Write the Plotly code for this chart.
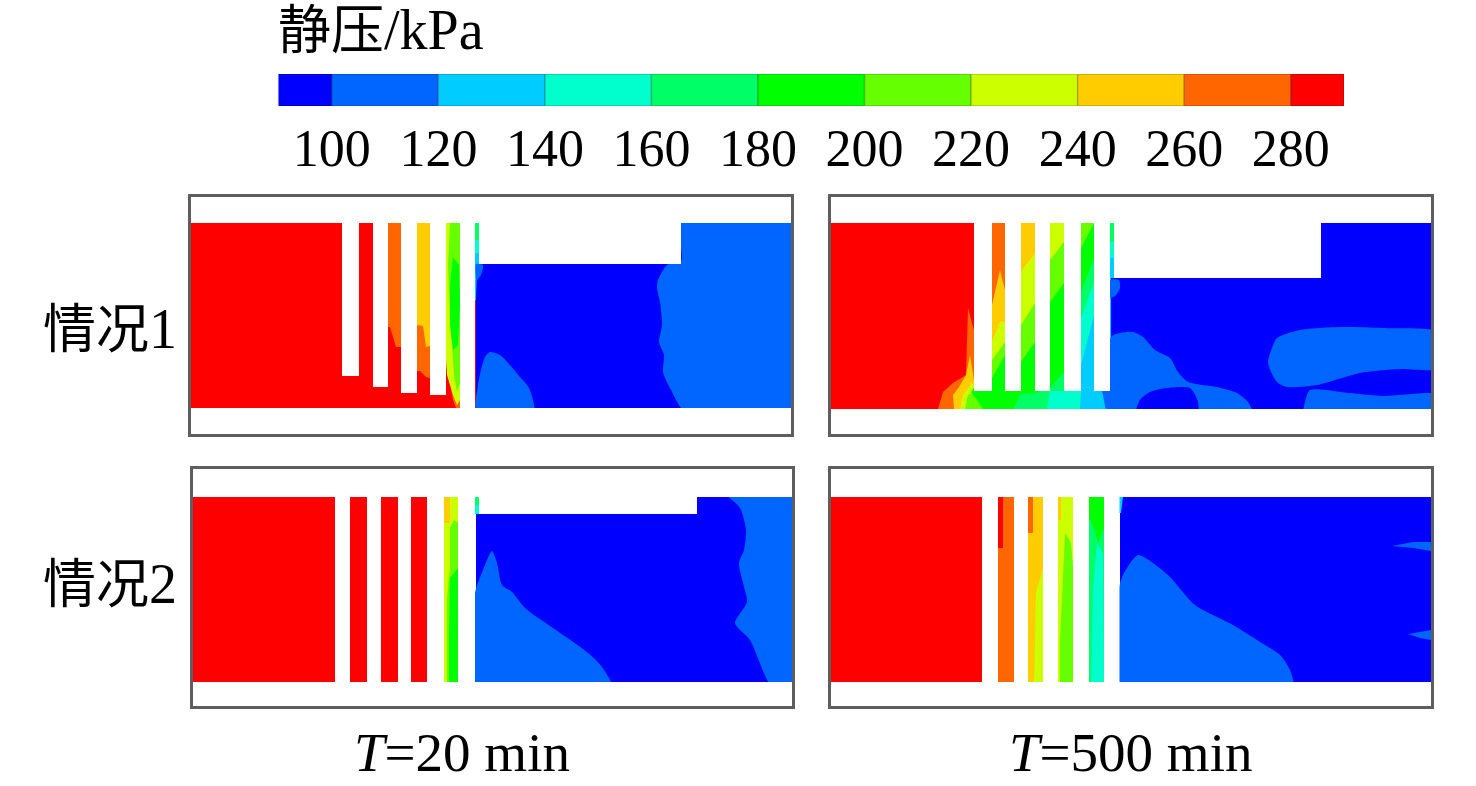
import plotly.graph_objects as go

# pressure levels of the legend (kPa) and their colours
LEVEL_EDGES = [90, 100, 120, 140, 160, 180, 200, 220, 240, 260, 280, 290]
LEVEL_COLORS = ['#0000FF', '#0066FF', '#00CCFF', '#00FFCC', '#00FF66', '#00FF00',
                '#66FF00', '#CCFF00', '#FFCC00', '#FF6600', '#FF0000']
TICK_VALUES = [100, 120, 140, 160, 180, 200, 220, 240, 260, 280]
COLOR_OF = dict(zip(LEVEL_EDGES[:-1], LEVEL_COLORS))

# contour regions, painted in order: (level, [(along channel, down channel), ...])
# *_LOBES are the curved ones, drawn smoothed on top of *_REGIONS
# case 1, T=20 min
C1_T20_REGIONS = [
    (280, [(0, 28), (285, 28), (285, 213), (0, 213)]),
    (260, [(197, 28), (210, 28), (210, 152), (205, 152), (199, 132), (197, 132)]),
    (260, [(226, 28), (239, 28), (239, 183), (235, 182), (229, 176), (226, 176)]),
    (240, [(226, 28), (239, 28), (239, 151), (235, 152), (232, 131), (227, 130), (226, 131)]),
    (260, [(255, 165), (262, 205), (265, 213), (269, 213), (269, 200), (255, 150)]),
    (220, [(255, 28), (269, 28), (269, 205), (266, 210), (262, 200), (256, 180), (255, 165)]),
    (200, [(259, 28), (269, 28), (269, 188), (266, 197), (263, 180), (259, 120), (257, 70)]),
    (180, [(262, 62), (268, 70), (269, 110), (267, 150), (262, 155), (259, 130), (259, 90)]),
    (90, [(285, 69), (490, 69), (490, 28), (600, 28), (600, 213), (285, 213)]),
    (160, [(284, 28), (288, 28), (288, 45), (284, 45)]),
    (140, [(284, 45), (288, 45), (288, 58), (284, 58)]),
    (120, [(284, 58), (288, 58), (288, 69), (286, 69), (285, 105), (284, 105)]),
]
C1_T20_LOBES = [
    (100, [(490, 20), (610, 20), (610, 220), (497, 220), (479, 193), (472, 177), (473, 160),
           (468, 147), (471, 130), (469, 107), (466, 93), (467, 85), (476, 70), (490, 66)]),
    (100, [(286, 220), (287, 190), (294, 162), (299, 157), (309, 160), (329, 182), (338, 193), (343, 220)]),
    (100, [(285, 69), (292, 70), (290, 80), (286, 85)]),
]
C1_T20_GAPS = [(151, 28, 168, 181), (182, 28, 197, 192), (210, 28, 226, 198),
               (239, 28, 255, 200), (269, 28, 284, 213), (288, 28, 490, 69),
               (0, 0, 610, 28), (0, 213, 610, 245)]

# case 1, T=500 min
C1_T500_REGIONS = [
    (280, [(0, 28), (600, 28), (600, 214), (0, 214)]),
    (260, [(143, 28), (143, 135), (137, 113), (135, 180), (122, 188), (112, 197), (107, 214), (600, 214), (600, 28)]),
    (240, [(174, 28), (174, 95), (169, 75), (161, 110), (143, 185), (139, 160), (135, 180), (128, 192),
           (122, 200), (123, 214), (600, 214), (600, 28)]),
    (220, [(204, 28), (204, 58), (190, 77), (174, 127), (169, 127), (161, 147), (145, 190), (141, 188),
           (132, 200), (129, 214), (600, 214), (600, 28)]),
    (200, [(233, 28), (233, 47), (219, 65), (204, 108), (190, 130), (174, 147), (161, 165), (145, 196),
           (137, 200), (134, 214), (600, 214), (600, 28)]),
    (180, [(263, 28), (250, 53), (233, 88), (219, 107), (204, 147), (190, 167), (174, 160), (161, 183),
           (145, 190), (140, 197), (146, 205), (152, 214), (600, 214), (600, 28)]),
    (160, [(270, 28), (263, 63), (250, 97), (233, 177), (219, 193), (204, 198), (190, 199), (182, 214),
           (600, 214), (600, 28)]),
    (140, [(283, 47), (279, 47), (263, 87), (250, 123), (233, 196), (219, 196), (216, 214), (600, 214),
           (600, 28), (283, 28)]),
    (120, [(283, 63), (279, 63), (263, 120), (250, 170), (250, 196), (249, 214), (600, 214), (600, 28), (283, 28)]),
    (90, [(280, 83), (490, 83), (490, 28), (600, 28), (600, 214), (280, 214)]),
    (100, [(271, 196), (280, 196), (280, 214), (275, 214)]),
]
C1_T500_LOBES = [
    (100, [(280, 142), (289, 138), (302, 137), (312, 142), (324, 155), (339, 163), (347, 177), (357, 187),
           (386, 192), (406, 198), (417, 207), (422, 220), (278, 220)]),
    (90, [(305, 220), (309, 205), (319, 197), (336, 193), (359, 193), (367, 207), (366, 220)]),
    (100, [(279, 85), (288, 85), (289, 93), (285, 100), (279, 103)]),
    (100, [(446, 143), (469, 135), (509, 132), (552, 133), (610, 138), (610, 173), (569, 174), (529, 178),
           (486, 190), (456, 192), (446, 187), (437, 168), (441, 153)]),
    (100, [(473, 220), (474, 207), (479, 195), (519, 198), (552, 201), (610, 200), (610, 220)]),
]
C1_T500_GAPS = [(143, 28, 161, 196), (174, 28, 190, 196), (204, 28, 219, 196),
                (233, 28, 250, 196), (263, 28, 279, 196), (283, 28, 490, 83),
                (0, 0, 610, 28), (0, 214, 610, 245)]

# case 2, T=20 min
C2_T20_REGIONS = [
    (280, [(1, 29), (270, 29), (270, 214), (1, 214)]),
    (220, [(253, 29), (267, 29), (267, 214), (253, 214)]),
    (240, [(253, 29), (259, 29), (259, 55), (253, 55)]),
    (200, [(259, 60), (263, 52), (267, 55), (267, 214), (256, 214), (256, 130), (259, 100)]),
    (180, [(259, 110), (267, 100), (267, 214), (258, 214), (258, 170)]),
    (90, [(285, 46), (506, 46), (506, 29), (601, 29), (601, 214), (285, 214)]),
    (160, [(284, 29), (288, 29), (288, 37), (284, 37)]),
    (140, [(284, 37), (288, 37), (288, 46), (284, 46)]),
]
C2_T20_LOBES = [
    (100, [(284, 125), (292, 102), (301, 83), (306, 95), (311, 117), (321, 124), (334, 140), (362, 160),
           (396, 184), (411, 199), (421, 220), (284, 220)]),
    (100, [(530, 20), (549, 40), (555, 62), (553, 82), (548, 95), (552, 115), (556, 134), (544, 155),
           (559, 172), (582, 220), (610, 220), (610, 20)]),
]
C2_T20_GAPS = [(144, 28, 159, 214), (176, 28, 190, 214), (207, 28, 220, 214),
               (236, 28, 253, 214), (267, 28, 284, 214), (288, 28, 506, 46),
               (0, 0, 610, 29), (0, 214, 610, 245)]

# case 2, T=500 min
C2_T500_REGIONS = [
    (280, [(0, 29), (151, 29), (151, 214), (0, 214)]),
    (260, [(172, 29), (183, 29), (183, 214), (167, 214), (167, 80), (172, 80)]),
    (280, [(167, 29), (172, 29), (172, 80), (167, 80)]),
    (240, [(197, 29), (212, 29), (212, 214), (197, 214)]),
    (260, [(197, 29), (202, 29), (202, 65), (197, 65)]),
    (220, [(212, 100), (205, 125), (203, 214), (212, 214)]),
    (220, [(227, 29), (242, 29), (242, 214), (227, 214)]),
    (240, [(227, 29), (230, 29), (230, 52), (227, 52)]),
    (200, [(234, 65), (240, 75), (242, 100), (242, 214), (229, 214), (229, 170), (232, 110)]),
    (160, [(258, 29), (273, 29), (273, 214), (258, 214)]),
    (180, [(258, 29), (273, 29), (273, 60), (267, 75), (263, 60), (258, 50)]),
    (140, [(266, 75), (272, 85), (273, 214), (260, 214), (262, 120)]),
    (90, [(289, 29), (600, 29), (600, 214), (289, 214)]),
    (120, [(288, 29), (292, 29), (290, 45), (288, 45)]),
    (100, [(561, 78), (582, 74), (600, 74), (600, 83), (582, 80)]),
    (100, [(577, 166), (600, 162), (600, 172), (589, 170)]),
]
C2_T500_LOBES = [
    (100, [(287, 125), (292, 107), (307, 87), (322, 95), (339, 109), (364, 137), (402, 157), (429, 174),
           (449, 187), (459, 202), (462, 220), (287, 220)]),
]
C2_T500_GAPS = [(151, 28, 167, 214), (183, 28, 197, 214), (212, 28, 227, 214),
                (242, 28, 258, 214), (273, 28, 288.5, 214),
                (0, 0, 610, 29), (0, 214, 610, 245)]

ROW_LABELS = ['情况1', '情况2']
COLUMN_LABELS = ['<i>T</i>=20 min', '<i>T</i>=500 min']
LEGEND_TITLE = '静压<span style="font-size:56px">/kPa</span>'

W, H = 1476, 786
FONT = 'Liberation Serif, Noto Sans CJK SC'
FRAME_COLOR = '#5e5e5e'

# frame on the page (left, top, right, bottom) and origin of the panel units
panels = [
    (C1_T20_REGIONS, C1_T20_LOBES, C1_T20_GAPS, (191, 196.7, 791, 434.3), (191, 195)),
    (C1_T500_REGIONS, C1_T500_LOBES, C1_T500_GAPS, (831, 196.7, 1431, 434.3), (831, 195)),
    (C2_T20_REGIONS, C2_T20_LOBES, C2_T20_GAPS, (192.7, 469.3, 792.3, 706), (191, 468)),
    (C2_T500_REGIONS, C2_T500_LOBES, C2_T500_GAPS, (831, 469.3, 1431, 706), (831, 468)),
]


def fx(px):
    return px / W


def fy(px):
    return 1 - px / H


fig = go.Figure()


def add_polygon(points, color, axis_no, smooth=False):
    line = dict(width=0, color=color)
    if smooth:
        line.update(shape='spline', smoothing=0.7)
    fig.add_trace(go.Scatter(
        x=[p[0] for p in points] + [points[0][0]],
        y=[p[1] for p in points] + [points[0][1]],
        mode='lines', fill='toself', fillcolor=color, line=line,
        hoverinfo='skip', showlegend=False,
        xaxis=f'x{axis_no}', yaxis=f'y{axis_no}',
    ))


for i, (regions, lobes, gaps, frame, origin) in enumerate(panels):
    n = i + 1
    for level, points in regions:
        add_polygon(points, COLOR_OF[level], n)
    for level, points in lobes:
        add_polygon(points, COLOR_OF[level], n, smooth=True)
    for u0, v0, u1, v1 in gaps:
        add_polygon([(u0, v0), (u1, v0), (u1, v1), (u0, v1)], 'white', n)
    left, top, right, bottom = frame
    axis_style = dict(showgrid=False, zeroline=False, showticklabels=False, ticks='',
                      showline=True, mirror=True, linecolor=FRAME_COLOR, linewidth=2.5)
    fig.layout[f'xaxis{n}'] = dict(
        axis_style, domain=[fx(left), fx(right)],
        range=[left - origin[0], right - origin[0]], anchor=f'y{n}')
    fig.layout[f'yaxis{n}'] = dict(
        axis_style, domain=[fy(bottom), fy(top)],
        range=[bottom - origin[1], top - origin[1]], anchor=f'x{n}')

# legend bar
fig.add_trace(go.Bar(
    x=[b - a for a, b in zip(LEVEL_EDGES[:-1], LEVEL_EDGES[1:])],
    base=LEVEL_EDGES[:-1],
    y=[0] * len(LEVEL_COLORS),
    orientation='h', width=1,
    marker=dict(color=LEVEL_COLORS, line=dict(color='rgba(0,0,0,0.2)', width=1.5)),
    hoverinfo='skip', showlegend=False, xaxis='x5', yaxis='y5',
))
fig.update_layout(
    xaxis5=dict(domain=[fx(277), fx(1344)], range=[89.7, 290], anchor='free', position=fy(113),
                tickvals=TICK_VALUES, ticks='',
                showgrid=False, zeroline=False, showline=False,
                tickfont=dict(family=FONT, size=52, color='black')),
    yaxis5=dict(domain=[fy(106), fy(74)], range=[-0.5, 0.5], anchor='x5',
                showticklabels=False, ticks='', showgrid=False, zeroline=False),
)

annotations = [
    dict(text=LEGEND_TITLE, x=fx(276), y=fy(30), xanchor='left'),
    dict(text=ROW_LABELS[0].replace('1', '<span style="font-size:56px">1</span>'),
         x=fx(110), y=fy(329), xanchor='center'),
    dict(text=ROW_LABELS[1].replace('2', '<span style="font-size:56px">2</span>'),
         x=fx(110), y=fy(584), xanchor='center'),
    dict(text=f'<span style="font-size:55px">{COLUMN_LABELS[0]}</span>', x=fx(462), y=fy(752), xanchor='center'),
    dict(text=f'<span style="font-size:55px">{COLUMN_LABELS[1]}</span>', x=fx(1130), y=fy(752), xanchor='center'),
]
for a in annotations:
    fig.add_annotation(xref='paper', yref='paper', yanchor='middle', showarrow=False,
                       font=dict(family=FONT, size=53, color='black'), **a)

fig.update_layout(
    width=W, height=H,
    margin=dict(l=0, r=0, t=0, b=0),
    paper_bgcolor='white', plot_bgcolor='white',
    barmode='overlay',
)

# drop the browser's body margin so the figure fills the window
fig.write_html("out.html", config={'displayModeBar': False},
               post_script="document.body.style.margin='0';")
